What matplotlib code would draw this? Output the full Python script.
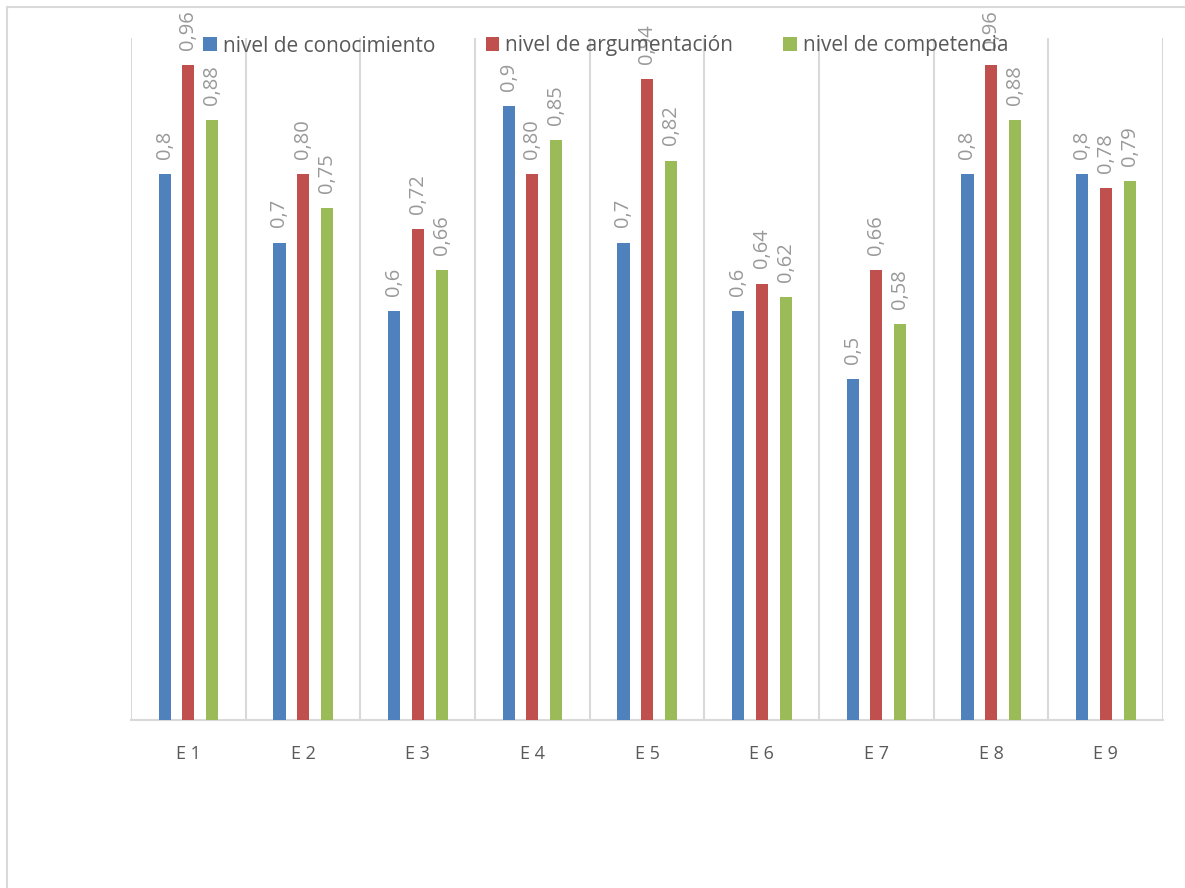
import numpy as np
import matplotlib
matplotlib.use("Agg")
import matplotlib.pyplot as plt
from matplotlib.patches import Rectangle

plt.rcParams['font.family'] = ['Open Sans', 'DejaVu Sans']

categories = ["E 1", "E 2", "E 3", "E 4", "E 5", "E 6", "E 7", "E 8", "E 9"]
series_names = ["nivel de conocimiento", "nivel de argumentación", "nivel de competencia"]
conocimiento = [0.8, 0.7, 0.6, 0.9, 0.7, 0.6, 0.5, 0.8, 0.8]
argumentacion = [0.96, 0.80, 0.72, 0.80, 0.94, 0.64, 0.66, 0.96, 0.78]
competencia = [0.88, 0.75, 0.66, 0.85, 0.82, 0.62, 0.58, 0.88, 0.79]
label_conocimiento = ["0,8", "0,7", "0,6", "0,9", "0,7", "0,6", "0,5", "0,8", "0,8"]
label_argumentacion = ["0,96", "0,80", "0,72", "0,80", "0,94", "0,64", "0,66", "0,96", "0,78"]
label_competencia = ["0,88", "0,75", "0,66", "0,85", "0,82", "0,62", "0,58", "0,88", "0,79"]

colors = ["#4F81BD", "#C0504D", "#9BBB59"]
grid_color = "#D9D9D9"

fig = plt.figure(figsize=(11.85, 8.88), dpi=100)
ax = fig.add_axes([131 / 1185, 1 - 720 / 888, (1163 - 131) / 1185, (720 - 38) / 888])

x = np.arange(len(categories))
offsets = [-0.205, 0.0, 0.21]
width = 0.105
series = [conocimiento, argumentacion, competencia]
labels = [label_conocimiento, label_argumentacion, label_competencia]

for vals, labs, off, col, name in zip(series, labels, offsets, colors, series_names):
    bars = ax.bar(x + off, vals, width=width, color=col, label=name, zorder=3)
    for b, v, t in zip(bars, vals, labs):
        ax.annotate(t, (b.get_x() + b.get_width() / 2, v), xytext=(0, 11),
                    textcoords="offset points", rotation=90, ha="center", va="bottom",
                    fontsize=14.5, color="#999999", zorder=4)

ax.set_xlim(-0.5, len(categories) - 0.5)
ax.set_ylim(0, 1.0)
ax.set_yticks([])
ax.set_xticks(x)
ax.set_xticklabels(categories, fontsize=13, color="#595959")
ax.tick_params(axis="x", length=0, pad=18)

# category separators
for b in np.arange(-0.5, len(categories), 1.0):
    ax.axvline(b, color=grid_color, lw=1.5, zorder=1)

for s in ["top", "right", "left"]:
    ax.spines[s].set_visible(False)
ax.spines["bottom"].set_color(grid_color)
ax.spines["bottom"].set_linewidth(1.5)

leg = fig.legend(loc="center", bbox_to_anchor=(606 / 1185, 1 - 46 / 888), ncol=3,
                 frameon=False, fontsize=15, handlelength=0.65, handleheight=0.65,
                 handletextpad=0.3, columnspacing=2.4, labelcolor="#595959")

# outer chart frame
fig.patches.append(Rectangle((7 / 1185, -0.5), 2.0, 1.5 - 7 / 888, transform=fig.transFigure,
                             fill=False, edgecolor=grid_color, lw=1.5))

fig.savefig("out.png", dpi=100)
